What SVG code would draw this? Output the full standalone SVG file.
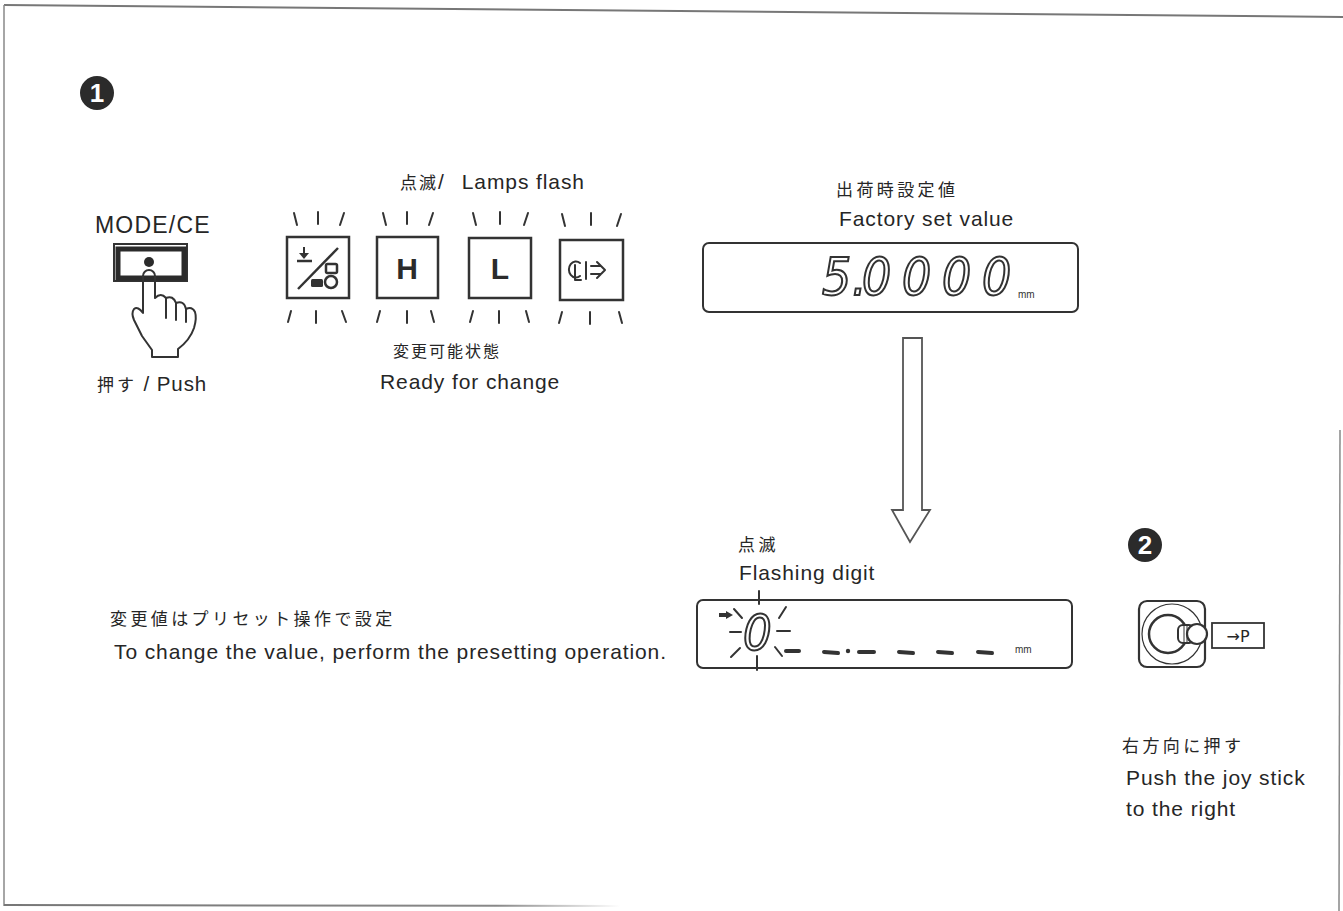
<svg xmlns="http://www.w3.org/2000/svg" width="1343" height="911" viewBox="0 0 1343 911">
  <defs>
    <style>
      .en { font-family: "Liberation Sans", Arial, sans-serif; fill: #262626; font-size: 21px; letter-spacing: 0.9px; }
      .jp { font-family: "Noto Sans CJK JP", "Liberation Sans", sans-serif; fill: #262626; font-size: 17px; letter-spacing: 3.4px; }
      .ln { stroke: #333; fill: none; stroke-width: 2; stroke-linecap: round; stroke-linejoin: round; }
      .box { stroke: #333; fill: #fff; stroke-width: 2.5; }
      .ray { stroke: #333; stroke-width: 2; stroke-linecap: round; }
      .seg { font-family: "DejaVu Sans Condensed", "DejaVu Sans", sans-serif; font-style: italic; font-size: 51px; fill: #fff; stroke: #333; stroke-width: 2; }
      .dash { stroke: #333; stroke-width: 4; stroke-linecap: round; }
      .badge { fill: #2b2b2b; }
      .badgeNum { font-family: "Liberation Sans", Arial, sans-serif; font-weight: bold; font-size: 26px; fill: #fff; text-anchor: middle; }
      .mm { font-family: "Liberation Sans", Arial, sans-serif; font-size: 10px; fill: #333; }
    </style>
    <linearGradient id="fadeBottom" x1="0" x2="1" y1="0" y2="0">
      <stop offset="0" stop-color="#777"/>
      <stop offset="0.8" stop-color="#888"/>
      <stop offset="1" stop-color="#888" stop-opacity="0"/>
    </linearGradient>
  </defs>

  <rect width="1343" height="911" fill="#fff"/>

  <!-- page frame -->
  <g id="frame">
    <line x1="4" y1="5" x2="1343" y2="17" stroke="#777" stroke-width="2"/>
    <line x1="4" y1="5" x2="4" y2="906" stroke="#888" stroke-width="1.5"/>
    <line x1="4" y1="905" x2="620" y2="906" stroke="url(#fadeBottom)" stroke-width="2"/>
    <line x1="1340" y1="430" x2="1339" y2="911" stroke="#888" stroke-width="1.5"/>
  </g>

  <!-- step 1 badge -->
  <g id="badge1">
    <circle class="badge" cx="97" cy="93" r="17"/>
    <text class="badgeNum" x="97" y="102">1</text>
  </g>

  <!-- MODE/CE key with finger -->
  <g id="modeKey">
    <text class="en" x="95" y="233" style="font-size:23px;letter-spacing:1.2px">MODE/CE</text>
    <rect x="114" y="244" width="73" height="37" fill="none" stroke="#333" stroke-width="2"/>
    <rect x="118" y="249" width="66" height="29" fill="#fff" stroke="#2b2b2b" stroke-width="5"/>
    <circle cx="149" cy="262" r="5" fill="#2b2b2b"/>
    <path class="ln" fill="#fff" d="M143,276 L143,313 Q138,306 134,309 Q131,313 134,320 L142,336 L152,350 L152,357 L178,357 L178,349 Q190,340 194,328 Q197,318 195,312 Q192,306 186,309 Q184,300 176,303 Q173,295 166,298 Q161,292 155,298 L155,276 A6,6 0 0 0 143,276 Z"/>
    <path class="ln" d="M166,298 L166,318 M176,303 L176,320 M186,309 L186,322"/>
    <text class="en" x="97" y="391" style="font-size:20.5px"><tspan class="jp" style="letter-spacing:3px">押す</tspan> / Push</text>
  </g>

  <!-- flashing lamps -->
  <g id="lamps">
    <text x="400" y="189" class="en" style="font-size:21px"><tspan class="jp" style="letter-spacing:2px">点滅</tspan>/<tspan dx="17">Lamps flash</tspan></text>

    <!-- lamp 1 : zero set -->
    <g id="lamp1">
      <rect class="box" x="287" y="237" width="62" height="61"/>
      <line class="ray" x1="294" y1="213" x2="297" y2="225"/>
      <line class="ray" x1="318" y1="212" x2="318" y2="224"/>
      <line class="ray" x1="344" y1="213" x2="340" y2="225"/>
      <line class="ray" x1="288" y1="322" x2="291" y2="311"/>
      <line class="ray" x1="316" y1="323" x2="316" y2="311"/>
      <line class="ray" x1="346" y1="322" x2="342" y2="311"/>
      <line x1="298" y1="289" x2="338" y2="248" stroke="#333" stroke-width="2.5"/>
      <line x1="304" y1="247" x2="304" y2="257" stroke="#333" stroke-width="2"/>
      <path d="M299,253 L304,259 L309,253 Z" fill="#333"/>
      <line x1="297" y1="261" x2="312" y2="261" stroke="#333" stroke-width="2.5"/>
      <rect x="311" y="279" width="12" height="8" rx="1.5" fill="#333"/>
      <rect x="326" y="264" width="11" height="9" rx="1.5" fill="none" stroke="#333" stroke-width="2.5"/>
      <circle cx="331" cy="282" r="6" fill="none" stroke="#333" stroke-width="2.5"/>
    </g>

    <!-- lamp 2 : H -->
    <g id="lamp2">
      <rect class="box" x="377" y="237" width="61" height="61"/>
      <line class="ray" x1="383" y1="213" x2="386" y2="225"/>
      <line class="ray" x1="407" y1="212" x2="407" y2="224"/>
      <line class="ray" x1="433" y1="213" x2="429" y2="225"/>
      <line class="ray" x1="377" y1="322" x2="380" y2="311"/>
      <line class="ray" x1="407" y1="323" x2="407" y2="311"/>
      <line class="ray" x1="434" y1="322" x2="431" y2="311"/>
      <text x="407" y="279" font-family="Liberation Sans, Arial, sans-serif" font-weight="bold" font-size="30" fill="#2b2b2b" text-anchor="middle">H</text>
    </g>

    <!-- lamp 3 : L -->
    <g id="lamp3">
      <rect class="box" x="469" y="238" width="62" height="60"/>
      <line class="ray" x1="473" y1="213" x2="476" y2="225"/>
      <line class="ray" x1="500" y1="212" x2="500" y2="224"/>
      <line class="ray" x1="528" y1="213" x2="524" y2="225"/>
      <line class="ray" x1="470" y1="322" x2="473" y2="311"/>
      <line class="ray" x1="499" y1="323" x2="499" y2="311"/>
      <line class="ray" x1="529" y1="322" x2="526" y2="311"/>
      <text x="500" y="279" font-family="Liberation Sans, Arial, sans-serif" font-weight="bold" font-size="30" fill="#2b2b2b" text-anchor="middle">L</text>
    </g>

    <!-- lamp 4 : hold / output -->
    <g id="lamp4">
      <rect class="box" x="560" y="240" width="63" height="60"/>
      <line class="ray" x1="562" y1="214" x2="565" y2="226"/>
      <line class="ray" x1="591" y1="213" x2="591" y2="225"/>
      <line class="ray" x1="621" y1="214" x2="617" y2="226"/>
      <line class="ray" x1="559" y1="323" x2="562" y2="312"/>
      <line class="ray" x1="590" y1="324" x2="590" y2="312"/>
      <line class="ray" x1="622" y1="323" x2="619" y2="312"/>
      <path class="ln" d="M580,263 A7,8 0 1 0 580,276"/>
      <path class="ln" d="M575,265 L575,280 L581,280"/>
      <line class="ln" x1="586" y1="262" x2="586" y2="279"/>
      <path class="ln" d="M591,266 L601,266 M591,274 L601,274 M597,262 L605,270 L597,278"/>
    </g>

    <text class="jp" x="393" y="357" style="font-size:16px;letter-spacing:2px">変更可能状態</text>
    <text class="en" x="380" y="389">Ready for change</text>
  </g>

  <!-- factory set display -->
  <g id="factoryDisplay">
    <text class="jp" x="836" y="196">出荷時設定値</text>
    <text class="en" x="839" y="226">Factory set value</text>
    <rect x="703" y="243" width="375" height="69" rx="6" fill="#fff" stroke="#333" stroke-width="2"/>
    <text class="seg" x="822 852 862 902 942 982" y="295">5.0000</text>
    <text class="mm" x="1018" y="298">mm</text>
  </g>

  <!-- flow arrow -->
  <g id="connectors">
    <path d="M903,338 L922,338 L922,510 L930,510 L910,542 L892,510 L903,510 Z" fill="#fff" stroke="#555" stroke-width="1.8" stroke-linejoin="miter"/>
  </g>

  <!-- flashing digit display -->
  <g id="presetDisplay">
    <text class="jp" x="738" y="551">点滅</text>
    <text class="en" x="739" y="580">Flashing digit</text>
    <rect x="697" y="600" width="375" height="68" rx="6" fill="#fff" stroke="#333" stroke-width="2"/>
    <line x1="719" y1="615" x2="727" y2="615" stroke="#333" stroke-width="4"/>
    <path d="M726,611 L733,615 L726,619 Z" fill="#333"/>
    <text class="seg" x="743" y="650" style="font-size:50px">0</text>
    <line class="ray" x1="759" y1="591" x2="759" y2="604"/>
    <line class="ray" x1="757" y1="656" x2="757" y2="670"/>
    <line class="ray" x1="730" y1="632" x2="741" y2="632"/>
    <line class="ray" x1="777" y1="631" x2="790" y2="631"/>
    <line class="ray" x1="734" y1="609" x2="742" y2="618"/>
    <line class="ray" x1="779" y1="618" x2="786" y2="607"/>
    <line class="ray" x1="731" y1="657" x2="740" y2="648"/>
    <line class="ray" x1="775" y1="647" x2="782" y2="656"/>
    <line class="dash" x1="786" y1="651" x2="799" y2="651"/>
    <line class="dash" x1="824" y1="652" x2="838" y2="653"/>
    <circle cx="848" cy="651" r="2.2" fill="#333"/>
    <line class="dash" x1="859" y1="652" x2="874" y2="652"/>
    <line class="dash" x1="899" y1="652" x2="913" y2="653"/>
    <line class="dash" x1="938" y1="652" x2="952" y2="653"/>
    <line class="dash" x1="978" y1="652" x2="992" y2="653"/>
    <text class="mm" x="1015" y="653">mm</text>
  </g>

  <!-- preset note -->
  <g id="presetNote">
    <text class="jp" x="110" y="625">変更値はプリセット操作で設定</text>
    <text class="en" x="114" y="659">To change the value, perform the presetting operation.</text>
  </g>

  <!-- step 2 badge -->
  <g id="badge2">
    <circle class="badge" cx="1145" cy="545" r="17"/>
    <text class="badgeNum" x="1145" y="554">2</text>
  </g>

  <!-- joystick -->
  <g id="joystick">
    <rect x="1139" y="601" width="66" height="66" rx="8" fill="#fff" stroke="#333" stroke-width="2.2"/>
    <circle cx="1172" cy="634" r="30" fill="none" stroke="#333" stroke-width="1.2"/>
    <circle cx="1168" cy="634" r="19" fill="none" stroke="#333" stroke-width="2.5"/>
    <rect x="1178" y="625" width="16" height="18" rx="5" fill="#fff" stroke="#333" stroke-width="2"/>
    <line x1="1184" y1="626" x2="1184" y2="642" stroke="#333" stroke-width="1"/>
    <line x1="1187" y1="626" x2="1187" y2="642" stroke="#333" stroke-width="1"/>
    <circle cx="1197" cy="634" r="10" fill="#fff" stroke="#333" stroke-width="2.2"/>
    <rect x="1212" y="623" width="52" height="25" fill="#fff" stroke="#333" stroke-width="1.8"/>
    <text x="1238" y="642" font-family="DejaVu Sans, sans-serif" font-size="16" fill="#262626" text-anchor="middle">→P</text>
    <text class="jp" x="1122" y="752">右方向に押す</text>
    <text class="en" x="1126" y="785">Push the joy stick</text>
    <text class="en" x="1126" y="816">to the right</text>
  </g>
</svg>
